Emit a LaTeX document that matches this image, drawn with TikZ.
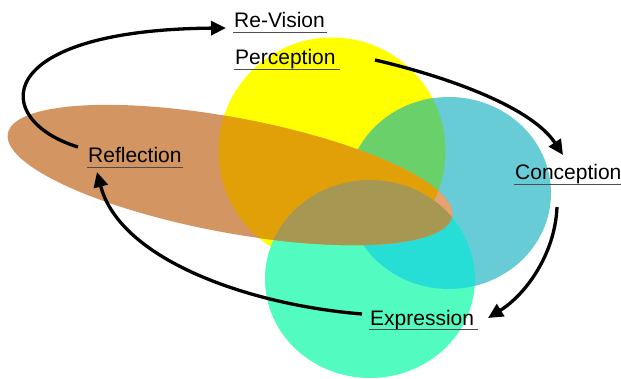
\documentclass[tikz,border=0pt]{standalone}
\usepackage{fontspec}
\setmainfont{Liberation Sans}
\usetikzlibrary{arrows.meta}
\definecolor{cYel}{RGB}{255,255,0}
\definecolor{cCya}{RGB}{104,204,214}
\definecolor{cGrn}{RGB}{106,208,106}
\definecolor{cAqu}{RGB}{82,252,192}
\definecolor{cTur}{RGB}{38,222,214}
\definecolor{cBrn}{RGB}{211,150,98}
\definecolor{cSal}{RGB}{230,162,112}
\definecolor{cOra}{RGB}{226,160,8}
\definecolor{cOli}{RGB}{166,152,82}
\begin{document}
\begin{tikzpicture}[x=1pt,y=-1pt,
  lbl/.style={inner sep=0pt, anchor=base west, font=\fontsize{21}{25}\selectfont},
  uline/.style={draw=black!70, line width=1.2pt},
  cycle arrow/.style={line width=3.3pt, -{Triangle[length=15pt,width=14pt]}}]
\useasboundingbox (0,0) rectangle (621,379);
\fill[white] (0,0) rectangle (621,379);
\def\shY{(332,151) circle [radius=113.5]}
\def\shC{(449,193) ellipse [x radius=102, y radius=96]}
\def\shG{(370,279) ellipse [x radius=105, y radius=99]}
\def\shE{(230,175) ellipse [x radius=226, y radius=57.5, rotate=-10.6]}
% Perception circle
\fill[cYel] \shY;
% Conception circle
\fill[cCya] \shC;
\begin{scope}\clip \shY; \fill[cGrn] \shC; \end{scope}
% Expression circle
\fill[cAqu] \shG;
\begin{scope}\clip \shC; \fill[cTur] \shG; \end{scope}
% Reflection ellipse
\fill[cBrn] \shE;
\begin{scope}\clip \shC; \fill[cSal] \shE; \end{scope}
\begin{scope}\clip \shY; \fill[cOra] \shE; \end{scope}
\begin{scope}\clip \shG; \fill[cOli] \shE; \end{scope}
% labels
\node[lbl] (rev) at (234,28) {Re-Vision};
\node[lbl] (per) at (235,65) {Perception};
\node[lbl] (ref) at (88,163) {Reflection};
\node[lbl] (con) at (515,180) {Conception};
\node[lbl] (exp) at (370,325) {Expression};
\foreach \n/\e in {rev/2, per/4, ref/1, con/1, exp/4}
  \draw[uline] ([shift={(-1,4.5)}]\n.base west) -- ([shift={(\e,4.5)}]\n.base east);
% connectors
\coordinate (refOut) at (78,147);
\coordinate (revIn) at (226,28);
\coordinate (perOut) at (375,60);
\coordinate (conIn) at (563,155);
\coordinate (conOut) at (557,207);
\coordinate (expIn) at (488,318);
\coordinate (expOut) at (362,314);
\coordinate (refIn) at (97,172);
\draw[cycle arrow] (refOut) .. controls (-10,120) and (-10,30) .. (revIn);
\draw[cycle arrow] (perOut) .. controls (440,75) and (530,105) .. (conIn);
\draw[cycle arrow] (conOut) .. controls (555,255) and (525,295) .. (expIn);
\draw[cycle arrow] (expOut) .. controls (250,305) and (120,260) .. (refIn);
\end{tikzpicture}
\end{document}
